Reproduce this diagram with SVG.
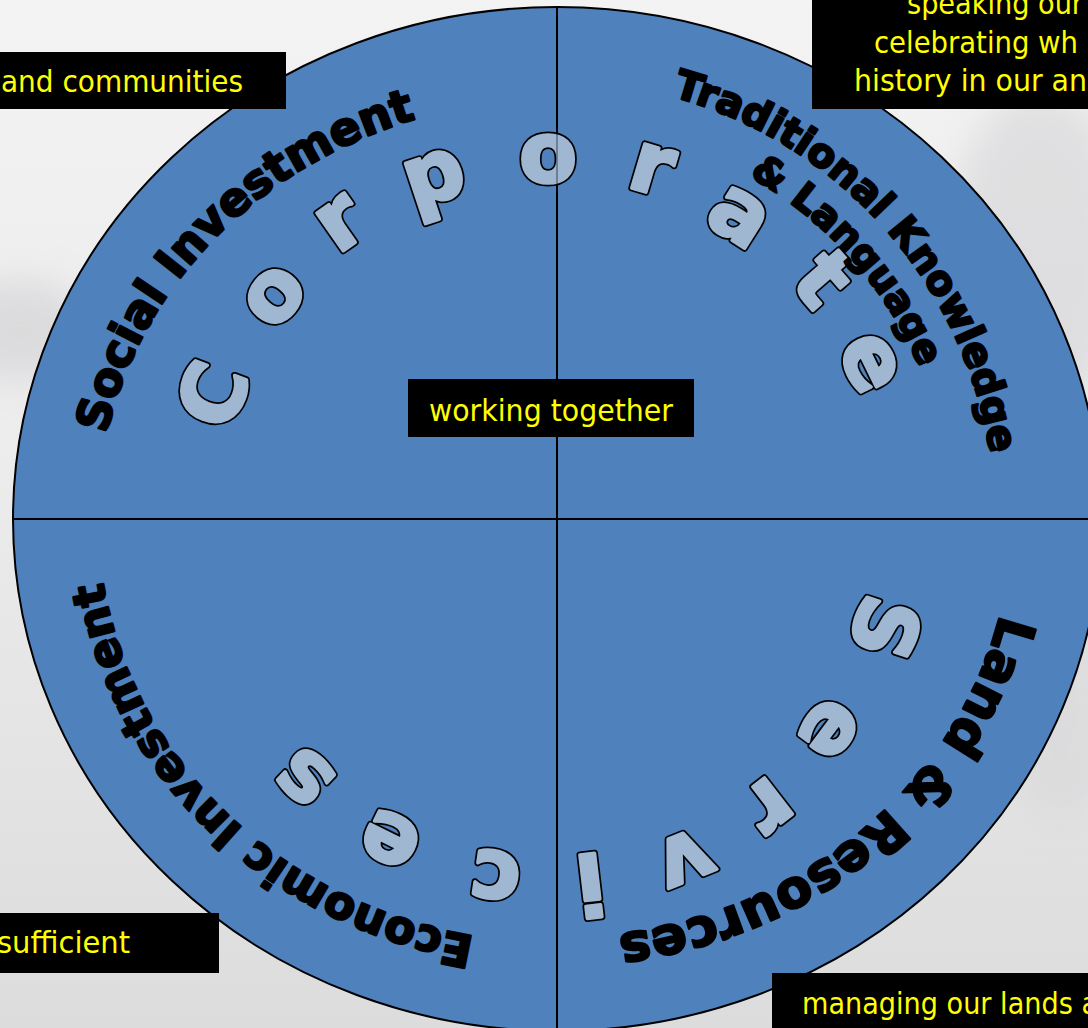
<svg xmlns="http://www.w3.org/2000/svg" width="1088" height="1028" viewBox="0 0 1088 1028">
<defs>
<linearGradient id="bg" x1="0" y1="0" x2="0" y2="1">
<stop offset="0" stop-color="#f3f3f3"/>
<stop offset="0.45" stop-color="#ececed"/>
<stop offset="1" stop-color="#dcdcdd"/>
</linearGradient>
<filter id="blur" x="-50%" y="-50%" width="200%" height="200%"><feGaussianBlur stdDeviation="18"/></filter>
<path id="pSocial" d="M123.0,658.1 A460,420 0 0 1 642.0,106.2"/>
<path id="pTrad" d="M468.6,90.0 A438,438 0 0 1 972.7,656.9"/>
<path id="pLang" d="M477.3,134.2 A393,393 0 0 1 930.1,642.4"/>
<path id="pLand" d="M999.8,422.6 A455,419 0 0 1 426.2,920.3"/>
<path id="pEcon" d="M661.8,931.8 A459,424 0 0 1 117.6,396.5"/>
</defs>
<style>
.arc{font-family:"DejaVu Sans","Liberation Sans",sans-serif;font-weight:bold;fill:#000;stroke:#000;stroke-width:2.4;stroke-linejoin:round}
.box{fill:#000}
.lbl{font-family:"DejaVu Sans","Liberation Sans",sans-serif;font-size:30px;fill:#ffff00}
.div{stroke:#000;stroke-width:2;fill:none}
</style>
<rect width="1088" height="1028" fill="url(#bg)"/>
<g filter="url(#blur)" opacity="0.5">
<ellipse cx="20" cy="330" rx="70" ry="50" fill="#c9c9cc"/>
<ellipse cx="1040" cy="250" rx="90" ry="160" fill="#cfcfd2"/>
<ellipse cx="1060" cy="700" rx="60" ry="120" fill="#d4d4d6"/>
</g>
<g id="wheel">
<ellipse cx="557" cy="519" rx="544" ry="512" fill="#4f81bd" stroke="#000" stroke-width="2"/>
</g>
<g id="connectors">
<line class="div" x1="557" y1="7" x2="557" y2="1031"/>
<line class="div" x1="13" y1="519" x2="1101" y2="519"/>
</g>
<g id="corporate-services">
<use href="#csLetters" style="fill:#000;stroke:#000;stroke-width:7;stroke-linejoin:round"/>
<g style="fill:#a0b7d2;stroke:#a0b7d2;stroke-width:3.5;stroke-linejoin:round">
<g id="csLetters" font-family="DejaVu Sans, Liberation Sans, sans-serif" font-weight="bold" font-size="84" text-anchor="middle">
<text transform="translate(240.8,404.8) rotate(290.4)">C</text>
<text transform="translate(292.8,310.9) rotate(309.2)">o</text>
<text transform="translate(354.4,242.9) rotate(324.95)">r</text>
<text transform="translate(441.8,199.8) rotate(341.6)">p</text>
<text transform="translate(548,181.5)">o</text>
<text transform="translate(644.8,192.0) rotate(16.5)">r</text>
<text transform="translate(726.2,236.6) rotate(32.25)">a</text>
<text transform="translate(801.8,297.6) rotate(48.9)">t</text>
<text transform="translate(848.6,373.1) rotate(64.1)">e</text>
<text transform="translate(856.6,618.7) rotate(107.9)">S</text>
<text transform="translate(810.5,715.0) rotate(126.75)">e</text>
<text transform="translate(753.7,786.2) rotate(142.4)">r</text>
<text transform="translate(675.6,836.3) rotate(158.1)">v</text>
<text transform="translate(587.1,854.2) rotate(173.35)">i</text>
<text transform="translate(498.8,852.3) rotate(188.4)">c</text>
<text transform="translate(400.8,818.2) rotate(206.2)">e</text>
<text transform="translate(321.1,759.8) rotate(223.3)">s</text>
</g>
</g>
<line x1="557" y1="127" x2="557" y2="187" stroke="#000" stroke-opacity="0.3" stroke-width="2"/>
</g>
<g id="social-investment">
<text class="arc" font-size="45.8"><textPath href="#pSocial" startOffset="50%" text-anchor="middle">Social Investment</textPath></text>
</g>
<g id="traditional-knowledge">
<text class="arc" font-size="40.1"><textPath href="#pTrad" startOffset="50%" text-anchor="middle">Traditional Knowledge</textPath></text>
<text class="arc" font-size="38.8"><textPath href="#pLang" startOffset="50%" text-anchor="middle">&amp; Language</textPath></text>
</g>
<g id="land-resources">
<text class="arc" font-size="52.4"><textPath href="#pLand" startOffset="50%" text-anchor="middle">Land &amp; Resources</textPath></text>
</g>
<g id="economic-investment">
<text class="arc" font-size="45.3"><textPath href="#pEcon" startOffset="50%" text-anchor="middle">Economic Investment</textPath></text>
</g>
<g id="box-communities">
<rect class="box" x="0" y="52" width="286" height="57"/>
<text class="lbl" x="1" y="92" textLength="242" lengthAdjust="spacingAndGlyphs">and communities</text>
</g>
<g id="box-working">
<rect class="box" x="408" y="379" width="286" height="58"/>
<text class="lbl" x="429" y="420.5" textLength="244" lengthAdjust="spacingAndGlyphs">working together</text>
</g>
<g id="box-language">
<rect class="box" x="812" y="0" width="276" height="109"/>
<text class="lbl" x="907" y="14" textLength="176" lengthAdjust="spacingAndGlyphs">speaking our</text>
<text class="lbl" x="874" y="53" textLength="204" lengthAdjust="spacingAndGlyphs">celebrating wh</text>
<text class="lbl" x="854" y="91" textLength="233" lengthAdjust="spacingAndGlyphs">history in our an</text>
</g>
<g id="box-sufficient">
<rect class="box" x="0" y="913" width="219" height="60"/>
<text class="lbl" x="-3" y="953" textLength="133" lengthAdjust="spacingAndGlyphs">sufficient</text>
</g>
<g id="box-managing">
<rect class="box" x="772" y="973" width="316" height="60"/>
<text class="lbl" x="802" y="1014" textLength="296" lengthAdjust="spacingAndGlyphs">managing our lands a</text>
</g>
</svg>
